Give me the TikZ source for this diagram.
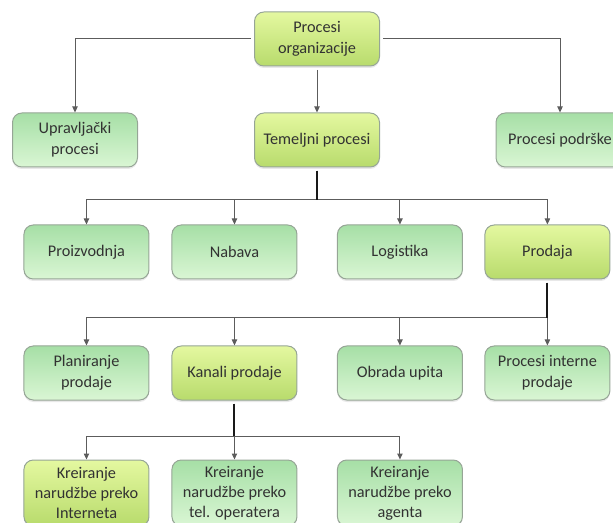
\documentclass[tikz,border=0pt]{standalone}
\usepackage{fontspec}
\setmainfont{Carlito}
\usepackage{tikz}
\usetikzlibrary{positioning, arrows.meta, shadows}
\definecolor{lightTop}{RGB}{166,223,166}
\definecolor{lightBot}{RGB}{218,246,212}
\definecolor{darkTop}{RGB}{228,248,160}
\definecolor{darkBot}{RGB}{184,219,108}
\definecolor{boxBorder}{RGB}{150,165,150}
\definecolor{boxText}{RGB}{50,50,50}
\definecolor{lineGray}{RGB}{92,92,92}
\tikzstyle{process} = [rectangle, rounded corners=7pt, minimum width=93.75pt, minimum height=40.5pt, text centered, align=center, draw=boxBorder, line width=0.75pt, top color=lightTop, bottom color=lightBot, text=boxText, font=\fontsize{12.2pt}{15.5pt}\selectfont, drop shadow={opacity=0.18, shadow xshift=0pt, shadow yshift=-1.5pt}]
\tikzstyle{keyprocess} = [process, top color=darkTop, bottom color=darkBot]
\tikzstyle{arrow} = [line width=0.75pt, draw=lineGray, -{Triangle[length=4.5pt, width=4pt]}, shorten <=2.5pt]
\tikzstyle{trunk} = [line width=1.5pt, draw=black!90, shorten <=2.5pt]

\begin{document}
\begin{tikzpicture}[node distance=84pt]

        \clip (0,0) rectangle (459.75pt,-392.25pt);

        \node (organizacija) [keyprocess] at (237.75pt,-29.25pt) {Procesi\\organizacije};
        \node (temeljni) [keyprocess, below of=organizacija, yshift=8.25pt] {Temeljni procesi};
        \node (upravljacki) [process, left of=temeljni, xshift=-97.5pt] {Upravljački\\procesi};
        \node (podrske) [process, right of=temeljni, xshift=98.25pt, minimum width=96pt] {Procesi podrške};

        \node (proizvodnja) [process, below of=temeljni, xshift=-172.9pt] {Proizvodnja};
        \node (nabava) [process, right of=proizvodnja, xshift=27pt] {Nabava};
        \node (logistika) [process, right of=nabava, xshift=40.1pt] {Logistika};
        \node (prodaja) [keyprocess, right of=logistika, xshift=26.6pt] {Prodaja};

        \node (planiranje) [process, below of=proizvodnja, yshift=-6.75pt] {Planiranje\\prodaje};
        \node (kanali) [keyprocess, below of=nabava, yshift=-6.75pt] {Kanali prodaje};
        \node (upiti) [process, below of=logistika, yshift=-6.75pt] {Obrada upita};
        \node (interna) [process, below of=prodaja, yshift=-6.75pt] {Procesi interne\\prodaje};

        \node (internet) [keyprocess, below of=planiranje, yshift=-6pt, minimum height=49.5pt, font=\fontsize{12.2pt}{15pt}\selectfont] {Kreiranje\\narudžbe preko\\Interneta};
        \node (operater) [process, below of=kanali, yshift=-6pt, minimum height=49.5pt, font=\fontsize{12.2pt}{15pt}\selectfont] {Kreiranje\\narudžbe preko\\tel. operatera};
        \node (agent) [process, below of=upiti, yshift=-6pt, minimum height=49.5pt, font=\fontsize{12.2pt}{15pt}\selectfont] {Kreiranje\\narudžbe preko\\agenta};

        \coordinate (busTemeljni) at (0,-150pt);
        \coordinate (busProdaja) at (0,-238.5pt);
        \coordinate (busKanali) at (0,-327pt);

        \draw [arrow] (organizacija.west) -| (upravljacki.north);
        \draw [arrow] (organizacija) -- (temeljni);
        \draw [arrow] (organizacija.east) -| (podrske.north);

        \draw [arrow] (temeljni.south) |- (busTemeljni -| proizvodnja) -- (proizvodnja.north);
        \draw [arrow] (temeljni.south) |- (busTemeljni -| nabava) -- (nabava.north);
        \draw [arrow] (temeljni.south) |- (busTemeljni -| logistika) -- (logistika.north);
        \draw [arrow] (temeljni.south) |- (busTemeljni -| prodaja) -- (prodaja.north);
        \draw [trunk] (temeljni.south) -- (temeljni.south |- busTemeljni);

        \draw [arrow] (prodaja.south) |- (busProdaja -| planiranje) -- (planiranje.north);
        \draw [arrow] (prodaja.south) |- (busProdaja -| kanali) -- (kanali.north);
        \draw [arrow] (prodaja.south) |- (busProdaja -| upiti) -- (upiti.north);
        \draw [arrow] (prodaja.south) |- (busProdaja -| interna) -- (interna.north);
        \draw [trunk] (prodaja.south) -- (prodaja.south |- busProdaja);

        \draw [arrow] (kanali.south) |- (busKanali -| internet) -- (internet.north);
        \draw [arrow] (kanali.south) |- (busKanali -| operater) -- (operater.north);
        \draw [arrow] (kanali.south) |- (busKanali -| agent) -- (agent.north);
        \draw [trunk] (kanali.south) -- (kanali.south |- busKanali);

\end{tikzpicture}
\end{document}
